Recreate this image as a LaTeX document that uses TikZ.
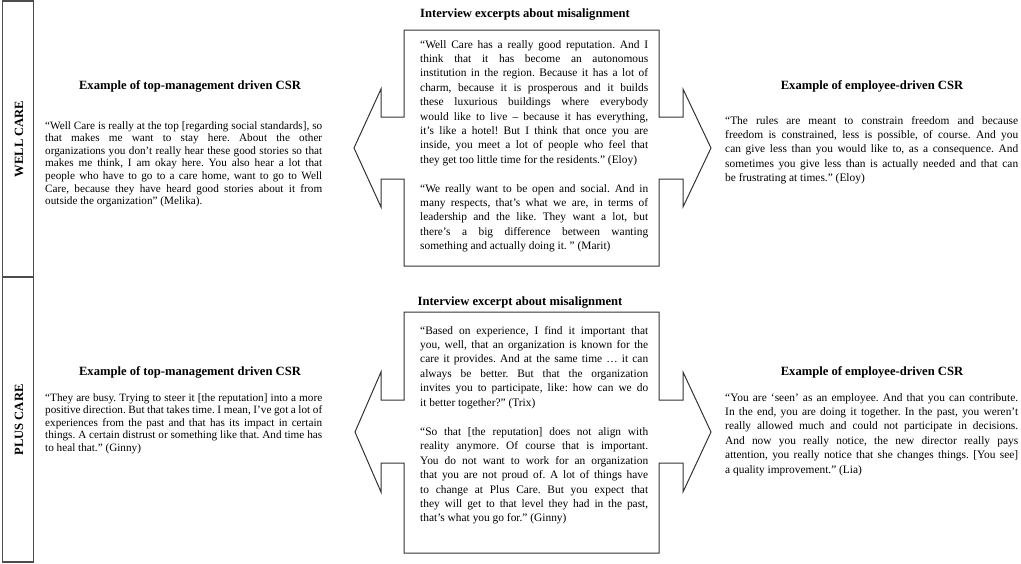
\documentclass[tikz,border=0pt]{standalone}
\usepackage{fontspec}
\setmainfont{Liberation Serif}
\newcommand\JL[1]{\hbox to\hsize{#1}}
\newcommand\LL[1]{\hbox to\hsize{#1\hfil}}
\newcommand\qfont{\fontsize{11.4}{14.4}\selectfont\frenchspacing}
\newcommand\lqfont{\fontsize{11.2}{12.6}\selectfont\frenchspacing}
\tikzset{
  frame/.style={draw=black!80, line width=1pt, line join=miter},
  sidebox/.style={draw=black!70, line width=1.1pt},
  head/.style={font=\fontsize{12.6}{15}\selectfont\bfseries, inner sep=0pt, anchor=base},
  quote/.style={inner sep=0pt, anchor=base west},
  side/.style={font=\fontsize{12.6}{15}\selectfont\bfseries, rotate=90, inner sep=0pt},
}
\begin{document}
\begin{tikzpicture}[x=1pt,y=-1pt]
\useasboundingbox (0,0) rectangle (1021,563);

% side label boxes
\draw[sidebox] (2.5,1) rectangle (33.5,277);
\draw[sidebox] (2.5,277) rectangle (33.5,562);
\node[side] (wellcare) at (19,139) {WELL CARE};
\node[side] (pluscare) at (19,420) {PLUS CARE};

% top double arrow shape
\draw[frame] (404,30) -- (659,30) -- (659,117) -- (683,117) -- (683,89) -- (711,148)
  -- (683,207) -- (683,179) -- (659,179) -- (659,266) -- (404,266) -- (404,179)
  -- (381,179) -- (381,207) -- (354,148) -- (381,89) -- (381,117) -- (404,117) -- cycle;

% bottom double arrow shape
\draw[frame] (404,312) -- (659,312) -- (659,400) -- (683,400) -- (683,372) -- (711,432)
  -- (683,492) -- (683,463) -- (659,463) -- (659,553) -- (404,553) -- (404,463)
  -- (381,463) -- (381,492) -- (355,432) -- (381,372) -- (381,400) -- (404,400) -- cycle;

% headings
\node[head] (h1) at (525,17.5) {Interview excerpts about misalignment};
\node[head] (h2) at (190,89.5) {Example of top-management driven CSR};
\node[head] (h3) at (872,89.5) {Example of employee-driven CSR};
\node[head] (h4) at (520,305.5) {Interview excerpt about misalignment};
\node[head] (h5) at (190,375.5) {Example of top-management driven CSR};
\node[head] (h6) at (872,375.5) {Example of employee-driven CSR};

% top-left quote
\node[quote] (q1) at (45,129) {\parbox[t]{277pt}{\lqfont
\JL{“Well Care is really at the top [regarding social standards], so}
\JL{that makes me want to stay here. About the other}
\JL{organizations you don’t really hear these good stories so that}
\JL{makes me think, I am okay here. You also hear a lot that}
\JL{people who have to go to a care home, want to go to Well}
\JL{Care, because they have heard good stories about it from}
\LL{outside the organization” (Melika).}}};

% top-center quotes
\node[quote] (q2) at (420,48) {\parbox[t]{228pt}{\qfont
\JL{“Well Care has a really good reputation. And I}
\JL{think that it has become an autonomous}
\JL{institution in the region. Because it has a lot of}
\JL{charm, because it is prosperous and it builds}
\JL{these luxurious buildings where everybody}
\JL{would like to live – because it has everything,}
\JL{it’s like a hotel! But I think that once you are}
\JL{inside, you meet a lot of people who feel that}
\LL{they get too little time for the residents.” (Eloy)}}};
\node[quote] (q3) at (420,192) {\parbox[t]{228pt}{\qfont
\JL{“We really want to be open and social. And in}
\JL{many respects, that’s what we are, in terms of}
\JL{leadership and the like. They want a lot, but}
\JL{there’s a big difference between wanting}
\LL{something and actually doing it. ” (Marit)}}};

% top-right quote
\node[quote] (q4) at (725,124) {\parbox[t]{293pt}{\qfont
\JL{“The rules are meant to constrain freedom and because}
\JL{freedom is constrained, less is possible, of course. And you}
\JL{can give less than you would like to, as a consequence. And}
\JL{sometimes you give less than is actually needed and that can}
\LL{be frustrating at times.” (Eloy)}}};

% bottom-left quote
\node[quote] (q5) at (45,401) {\parbox[t]{277pt}{\lqfont
\JL{“They are busy. Trying to steer it [the reputation] into a more}
\JL{positive direction. But that takes time. I mean, I’ve got a lot of}
\JL{experiences from the past and that has its impact in certain}
\JL{things. A certain distrust or something like that. And time has}
\LL{to heal that.” (Ginny)}}};

% bottom-center quotes
\node[quote] (q6) at (420,334) {\parbox[t]{228pt}{\qfont
\JL{“Based on experience, I find it important that}
\JL{you, well, that an organization is known for the}
\JL{care it provides. And at the same time … it can}
\JL{always be better. But that the organization}
\JL{invites you to participate, like: how can we do}
\LL{it better together?” (Trix)}}};
\node[quote] (q7) at (420,435.5) {\parbox[t]{228pt}{\qfont
\JL{“So that [the reputation] does not align with}
\JL{reality anymore. Of course that is important.}
\JL{You do not want to work for an organization}
\JL{that you are not proud of. A lot of things have}
\JL{to change at Plus Care. But you expect that}
\JL{they will get to that level they had in the past,}
\LL{that’s what you go for.” (Ginny)}}};

% bottom-right quote
\node[quote] (q8) at (725,401) {\parbox[t]{293pt}{\qfont
\JL{“You are ‘seen’ as an employee. And that you can contribute.}
\JL{In the end, you are doing it together. In the past, you weren’t}
\JL{really allowed much and could not participate in decisions.}
\JL{And now you really notice, the new director really pays}
\JL{attention, you really notice that she changes things. [You see]}
\LL{a quality improvement.” (Lia)}}};
\end{tikzpicture}
\end{document}
